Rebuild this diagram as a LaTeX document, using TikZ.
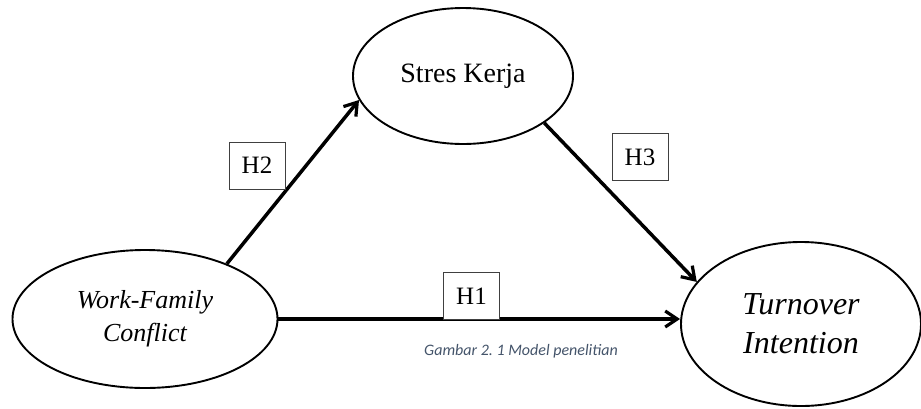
\documentclass[tikz,border=0pt]{standalone}
\usepackage{fontspec}
\setmainfont{Liberation Serif}
\newfontfamily\captionfont{Carlito}
\usetikzlibrary{shapes.geometric,arrows.meta}
\definecolor{captiongray}{HTML}{44546A}
\begin{document}
\begin{tikzpicture}
  [x=1pt,y=-1pt,
   construct/.style={ellipse,draw,line width=1.9pt,inner sep=0pt,align=center},
   hyp/.style={draw=black!75,line width=1pt,minimum width=56pt,minimum height=47pt,
     inner sep=0pt,fill=white,font=\fontsize{25}{28}\selectfont},
   path/.style={line width=3.5pt,-{Straight Barb[length=12pt,width=16pt,line width=3.2pt]}}]
  \useasboundingbox (0,0) rectangle (921,408);

  \node[construct,minimum width=265pt,minimum height=138pt,
    font=\fontsize{26}{33}\selectfont\itshape] (wfc) at (145,319) {Work-Family\\Conflict};
  \node[construct,minimum width=220pt,minimum height=136pt,
    font=\fontsize{28}{32}\selectfont] (sk) at (463,76) {Stres Kerja};
  \node[construct,minimum width=240pt,minimum height=164pt,
    font=\fontsize{32}{39}\selectfont\itshape] (tio) at (801,324) {Turnover\\Intention};

  \foreach \from/\to in {wfc.34/sk.193, sk.330/tio.158}
    \draw[path] (\from) -- (\to);
  \draw[path] (wfc.east) -- (wfc.east -| tio.west);

  \node[hyp] (h2) at (257,165.5) {H2};
  \node[hyp] (h3) at (640,157) {H3};
  \node[hyp] (h1) at (471.5,296) {H1};

  \node[font=\captionfont\fontsize{16}{19}\selectfont\itshape,text=captiongray,
    anchor=base] (cap) at (521,355) {Gambar 2.\ 1 Model penelitian};
\end{tikzpicture}
\end{document}
